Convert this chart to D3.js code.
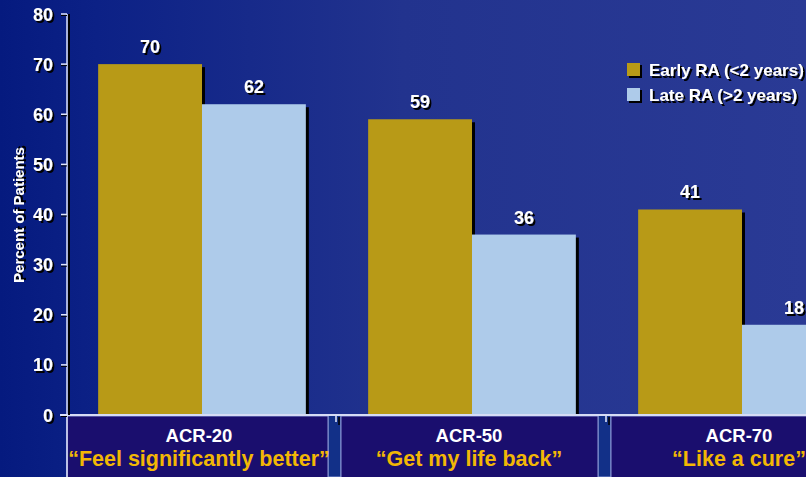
<!DOCTYPE html>
<html>
<head>
<meta charset="utf-8">
<script src="https://cdn.jsdelivr.net/npm/d3@7/dist/d3.min.js"></script>
<style>
  html, body { margin: 0; padding: 0; background: #0b2085; overflow: hidden; }
  svg { display: block; font-family: "Liberation Sans", Arial, sans-serif; }
  .narrow { font-family: "Liberation Sans Narrow", "Arial Narrow", "Liberation Sans", sans-serif; }
</style>
</head>
<body>
<svg id="chart" width="806" height="477"></svg>
<script>
// Response rates by disease duration
const categories = ["ACR-20", "ACR-50", "ACR-70"];
const subtitles = ["\u201CFeel significantly better\u201D", "\u201CGet my life back\u201D", "\u201CLike a cure\u201D"];
const seriesNames = ["Early RA (<2 years)", "Late RA (>2 years)"];
const earlyRA = [70, 59, 41];
const lateRA = [62, 36, 18];
const yTicks = [0, 10, 20, 30, 40, 50, 60, 70, 80];

const colors = ["#b89a17", "#aecbea"];
const W = 806, H = 477;
const svg = d3.select("#chart");

const defs = svg.append("defs");
// background gradient
const bg = defs.append("linearGradient").attr("id", "bg").attr("x1", 0).attr("x2", 1).attr("y1", 0).attr("y2", 0);
bg.append("stop").attr("offset", "0%").attr("stop-color", "#051a7f");
bg.append("stop").attr("offset", "12%").attr("stop-color", "#0c2186");
bg.append("stop").attr("offset", "50%").attr("stop-color", "#22338e");
bg.append("stop").attr("offset", "100%").attr("stop-color", "#2a3a95");
svg.append("rect").attr("width", W).attr("height", H).attr("fill", "url(#bg)");

// hard black drop shadow for text
const sh = defs.append("filter").attr("id", "tshadow").attr("x", "-20%").attr("y", "-30%").attr("width", "140%").attr("height", "160%");
sh.append("feOffset").attr("in", "SourceAlpha").attr("dx", 2).attr("dy", 2).attr("result", "off");
sh.append("feFlood").attr("flood-color", "#000");
sh.append("feComposite").attr("in2", "off").attr("operator", "in").attr("result", "shadow");
const m = sh.append("feMerge");
m.append("feMergeNode").attr("in", "shadow");
m.append("feMergeNode").attr("in", "SourceGraphic");

const axisX = 67, baseY = 415;
const y = d3.scaleLinear().domain([0, 80]).range([baseY, 14]);
const x0 = d3.scaleBand().domain(categories).range([axisX, axisX + 3 * 270]).padding(0);
const x1 = d3.scaleBand().domain(seriesNames).range([0, x0.bandwidth()]).paddingInner(0).paddingOuter(0.3);

const rows = categories.map((c, i) => ({ cat: c, values: [earlyRA[i], lateRA[i]] }));

function shadowText(g, x, yPos, txt, opts) {
  const o = Object.assign({ size: 16, fill: "#fff", anchor: "middle", cls: null }, opts || {});
  return g.append("text").attr("x", x).attr("y", yPos).attr("text-anchor", o.anchor)
    .attr("class", o.cls)
    .attr("font-size", o.size).attr("font-weight", "bold").attr("fill", o.fill)
    .attr("filter", "url(#tshadow)").text(txt);
}

// bars with drop shadows
const groups = svg.append("g").selectAll("g").data(rows).join("g")
  .attr("transform", d => `translate(${x0(d.cat)},0)`);

groups.each(function (d) {
  const g = d3.select(this);
  d.values.forEach((v, k) => {
    const bx = x1(seriesNames[k]);
    g.append("rect").attr("x", bx + 3).attr("y", y(v) + 3)
      .attr("width", x1.bandwidth()).attr("height", baseY - y(v) - 3).attr("fill", "#000");
  });
  d.values.forEach((v, k) => {
    const bx = x1(seriesNames[k]);
    g.append("rect").attr("x", bx).attr("y", y(v))
      .attr("width", x1.bandwidth()).attr("height", baseY - y(v)).attr("fill", colors[k]);
  });
  d.values.forEach((v, k) => {
    const bx = x1(seriesNames[k]) + x1.bandwidth() / 2;
    shadowText(g, bx, y(v) - 11, String(v), { size: 18, cls: "narrow" });
  });
});

// bottom category panels
const panelG = svg.append("g");
categories.forEach((c, i) => {
  const left = i === 0 ? axisX : x0(c) + 4;
  const right = x0(c) + x0.bandwidth() - 9;
  panelG.append("rect").attr("x", right).attr("y", baseY).attr("width", 13).attr("height", H - baseY)
    .attr("fill", "#123088").attr("stroke", "#8c9ad6").attr("stroke-width", 1);
  panelG.append("rect").attr("x", left).attr("y", baseY + 1).attr("width", right - left).attr("height", H - baseY)
    .attr("fill", "#1a0e6e").attr("stroke", "#8c9ad6").attr("stroke-width", 1);
  const cx = x0(c) + x0.bandwidth() / 2 - 3;
  panelG.append("text").attr("x", cx).attr("y", 442).attr("text-anchor", "middle")
    .attr("font-size", 18.5).attr("font-weight", "bold").attr("fill", "#fff").text(c);
  panelG.append("text").attr("x", cx).attr("y", 466).attr("text-anchor", "middle")
    .attr("font-size", 21.5).attr("font-weight", "bold").attr("fill", "#f2b705").text(subtitles[i]);
});

// category separator ticks
categories.slice(1).forEach(c => {
  const tx = x0(c);
  panelG.append("line").attr("x1", tx + 2).attr("x2", tx + 2).attr("y1", baseY + 2).attr("y2", baseY + 10)
    .attr("stroke", "#000").attr("stroke-width", 1.5);
  panelG.append("line").attr("x1", tx - 1).attr("x2", tx - 1).attr("y1", baseY + 1).attr("y2", baseY + 7)
    .attr("stroke", "#e8ecff").attr("stroke-width", 1.5);
});

// baseline
svg.append("line").attr("x1", 60).attr("x2", W).attr("y1", baseY).attr("y2", baseY)
  .attr("stroke", "#d6dcf5").attr("stroke-width", 2);

// y axis
const yAxisG = svg.append("g");
yAxisG.append("line").attr("x1", axisX + 2).attr("x2", axisX + 2).attr("y1", y(80)).attr("y2", baseY)
  .attr("stroke", "#000").attr("stroke-width", 2);
yAxisG.append("line").attr("x1", axisX).attr("x2", axisX).attr("y1", y(80)).attr("y2", H)
  .attr("stroke", "#dfe4fb").attr("stroke-width", 1.5);
yTicks.forEach(t => {
  yAxisG.append("line").attr("x1", axisX - 6).attr("x2", axisX).attr("y1", y(t) + 1.5).attr("y2", y(t) + 1.5)
    .attr("stroke", "#000").attr("stroke-width", 1);
  yAxisG.append("line").attr("x1", axisX - 6).attr("x2", axisX).attr("y1", y(t)).attr("y2", y(t))
    .attr("stroke", "#dfe4fb").attr("stroke-width", 1.5);
  shadowText(yAxisG, 53, y(t) + 6.5, String(t), { size: 18, anchor: "end", cls: "narrow" });
});

// y axis title
const yt = svg.append("g").attr("transform", "translate(24,215) rotate(-90)");
shadowText(yt, 0, 0, "Percent of Patients", { size: 15, cls: "narrow" });

// legend
const legend = svg.append("g").attr("transform", "translate(627,63)");
seriesNames.forEach((s, k) => {
  const ly = k * 25;
  legend.append("rect").attr("x", 2).attr("y", ly + 2).attr("width", 13).attr("height", 13).attr("fill", "#000");
  legend.append("rect").attr("x", 0).attr("y", ly).attr("width", 13).attr("height", 13).attr("fill", colors[k]);
  shadowText(legend, 22, ly + 13, s, { size: 17, anchor: "start" });
});
</script>
</body>
</html>
